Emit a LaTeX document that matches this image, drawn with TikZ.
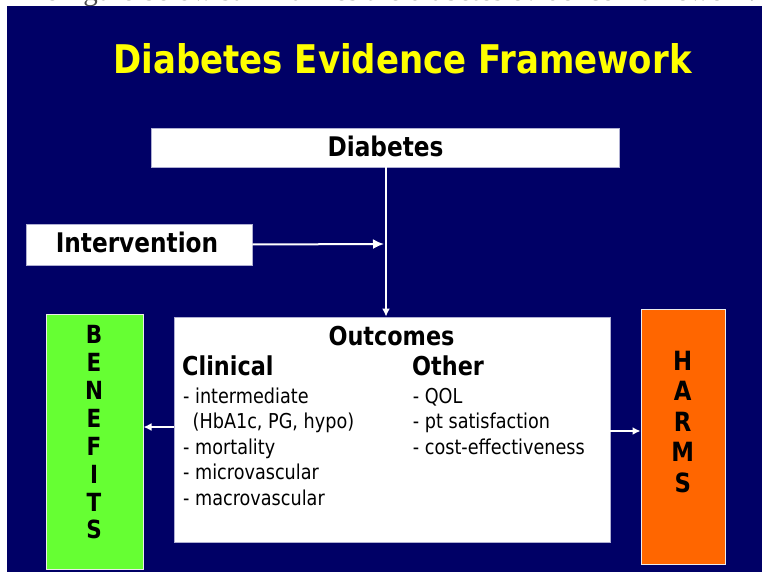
\documentclass[tikz,border=0pt]{standalone}
\usepackage{fontspec}
\setmainfont{DejaVu Sans}
% Tahoma-like face: DejaVu Sans set a little narrower
\newfontfamily\tah[FakeStretch=0.86]{DejaVu Sans}
\newfontfamily\capserif{Liberation Serif}
\usetikzlibrary{arrows.meta}

\definecolor{slidebg}{RGB}{0,0,102}
\definecolor{titleyellow}{RGB}{255,255,0}
\definecolor{benefitgreen}{RGB}{102,255,51}
\definecolor{harmorange}{RGB}{255,102,0}
\definecolor{boxedge}{RGB}{175,175,210}

\tikzset{
  whitebox/.style={draw=boxedge, line width=0.9pt, fill=white, inner sep=0pt},
  sidebox/.style={draw=white!85!gray, line width=1pt, inner sep=0pt},
  boxlabel/.style={font=\tah\bfseries\fontsize{27}{27}\selectfont, text=black, inner sep=0pt, anchor=base},
  heading/.style={font=\tah\bfseries\fontsize{26}{26}\selectfont, text=black, inner sep=0pt},
  item/.style={font=\tah\fontsize{20.5}{20.5}\selectfont, text=black, inner sep=0pt, anchor=base west},
  sideletter/.style={font=\tah\bfseries\fontsize{25}{25}\selectfont, text=black, inner sep=0pt, anchor=base},
  flow/.style={draw=white, line width=2pt, -{Latex[length=8pt,width=8pt]}},
}

\begin{document}
\begin{tikzpicture}[x=1pt,y=-1pt]
\useasboundingbox (0,0) rectangle (763,575);

% caption line of the page above the slide, cut by the page edge
\begin{scope}
  \clip (0,0) rectangle (763,575);
  \node[anchor=base west, inner sep=0pt, font=\capserif\fontsize{29}{29}\selectfont, text=black!70]
    (caption) at (13,0.6) {The figure below summarizes the diabetes evidence framework.};
\end{scope}

% slide background
\fill[slidebg] (7,6) rectangle (762,572);

% title
\node[font=\tah\bfseries\fontsize{39.5}{39.5}\selectfont, text=titleyellow, inner sep=0pt, anchor=base]
  (title) at (402.5,74) {Diabetes Evidence Framework};

% boxes
\node[whitebox, minimum width=468pt, minimum height=39pt] (diab) at (385,147.5) {};
\node[whitebox, minimum width=226pt, minimum height=41pt] (interv) at (139,244.5) {};
\node[whitebox, minimum width=436pt, minimum height=225pt] (out) at (392,429.5) {};
\node[sidebox, fill=benefitgreen, minimum width=97pt, minimum height=255pt] (ben) at (94.5,441.5) {};
\node[sidebox, fill=harmorange, minimum width=84pt, minimum height=255pt] (harm) at (683,436.5) {};

% box labels
\node[boxlabel] (diabtext) at (385.5,157) {Diabetes};
\node[boxlabel] (intervtext) at (137,252) {Intervention};

% outcomes contents
\node[heading, anchor=base] (outhead) at (391.5,345) {Outcomes};
\node[heading, anchor=base west] (clin) at (182,375.7) {Clinical};
\node[heading, anchor=base west] (other) at (412,375.7) {Other};

\node[item] (c1) at (183,403) {- intermediate};
\node[item] (c2) at (192.5,428.5) {(HbA1c, PG, hypo)};
\node[item] (c3) at (183,454) {- mortality};
\node[item] (c4) at (183,479.5) {- microvascular};
\node[item] (c5) at (183,505) {- macrovascular};

\node[item] (o1) at (412.7,403) {- QOL};
\node[item] (o2) at (412.7,428.5) {- pt satisfaction};
\node[item] (o3) at (412.7,454) {- cost-effectiveness};

% vertical words
\foreach \l [count=\i] in {B,E,N,E,F,I,T,S}
  \node[sideletter] (benl\i) at (94,{343.3+27.95*(\i-1)}) {\l};
\foreach \l [count=\i] in {H,A,R,M,S}
  \node[sideletter, font=\tah\bfseries\fontsize{26.5}{26.5}\selectfont] (harml\i) at (682.7,{370+30.6*(\i-1)}) {\l};

% connectors
\coordinate (joint) at (386,244);
\coordinate (leftrow) at (0,427);
\coordinate (rightrow) at (0,431);
\draw[flow] (diab.south -| joint) -- (out.north -| joint);
\draw[flow, -{Latex[length=11pt,width=10pt]}] (interv.east) -- ([xshift=-2pt]joint);
\draw[flow] (out.west |- leftrow) -- (ben.east |- leftrow);
\draw[flow] (out.east |- rightrow) -- (harm.west |- rightrow);
\end{tikzpicture}
\end{document}
